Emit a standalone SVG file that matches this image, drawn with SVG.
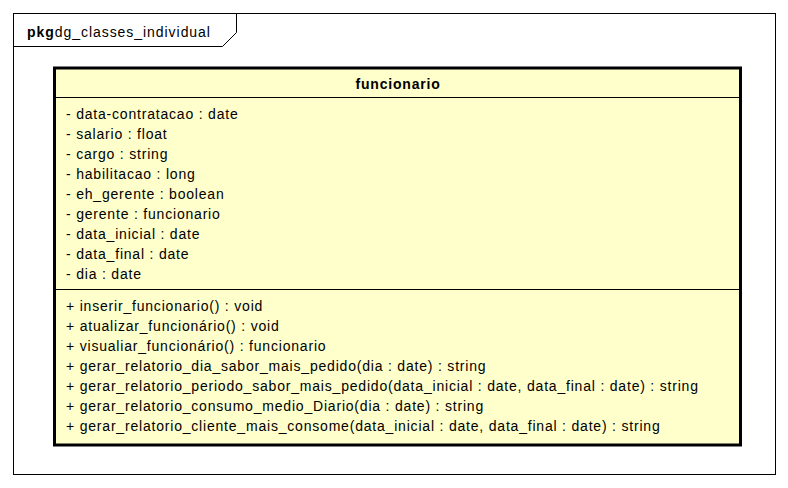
<svg xmlns="http://www.w3.org/2000/svg" width="788" height="488" viewBox="0 0 788 488">
<style>
text{font-family:"Liberation Sans",Arial,sans-serif;font-size:14px;fill:#000;letter-spacing:0.8px}
.b{font-weight:bold}
.ln{stroke:#000;stroke-width:1;fill:none}
</style>
<rect width="788" height="488" fill="#fff"/>
<g id="pkg">
<rect x="13.5" y="13.5" width="762" height="461" fill="#fff" stroke="#000"/>
<path class="ln" d="M13.5 46.5 H222.5 L236.5 32.5 V13.5"/>
<text x="27" y="37" style="letter-spacing:0.95px"><tspan class="b">pkg</tspan>dg_classes_individual</text>
</g>
<g id="funcionario">
<rect x="54.5" y="68" width="686" height="377" fill="#FFFFCC" stroke="#000" stroke-width="3"/>
<line class="ln" x1="56" y1="97.5" x2="739" y2="97.5"/>
<line class="ln" x1="56" y1="289.5" x2="739" y2="289.5"/>
<text class="b" x="398" y="89" text-anchor="middle">funcionario</text>
<text x="66" y="119">- data-contratacao : date</text>
<text x="66" y="139">- salario : float</text>
<text x="66" y="159">- cargo : string</text>
<text x="66" y="179">- habilitacao : long</text>
<text x="66" y="199">- eh_gerente : boolean</text>
<text x="66" y="219">- gerente : funcionario</text>
<text x="66" y="239">- data_inicial : date</text>
<text x="66" y="259">- data_final : date</text>
<text x="66" y="279">- dia : date</text>
<text x="66" y="311">+ inserir_funcionario() : void</text>
<text x="66" y="331">+ atualizar_funcionário() : void</text>
<text x="66" y="351">+ visualiar_funcionário() : funcionario</text>
<text x="66" y="371">+ gerar_relatorio_dia_sabor_mais_pedido(dia : date) : string</text>
<text x="66" y="391">+ gerar_relatorio_periodo_sabor_mais_pedido(data_inicial : date, data_final : date) : string</text>
<text x="66" y="411">+ gerar_relatorio_consumo_medio_Diario(dia : date) : string</text>
<text x="66" y="431">+ gerar_relatorio_cliente_mais_consome(data_inicial : date, data_final : date) : string</text>
</g>
<g id="connectors"/>
</svg>
